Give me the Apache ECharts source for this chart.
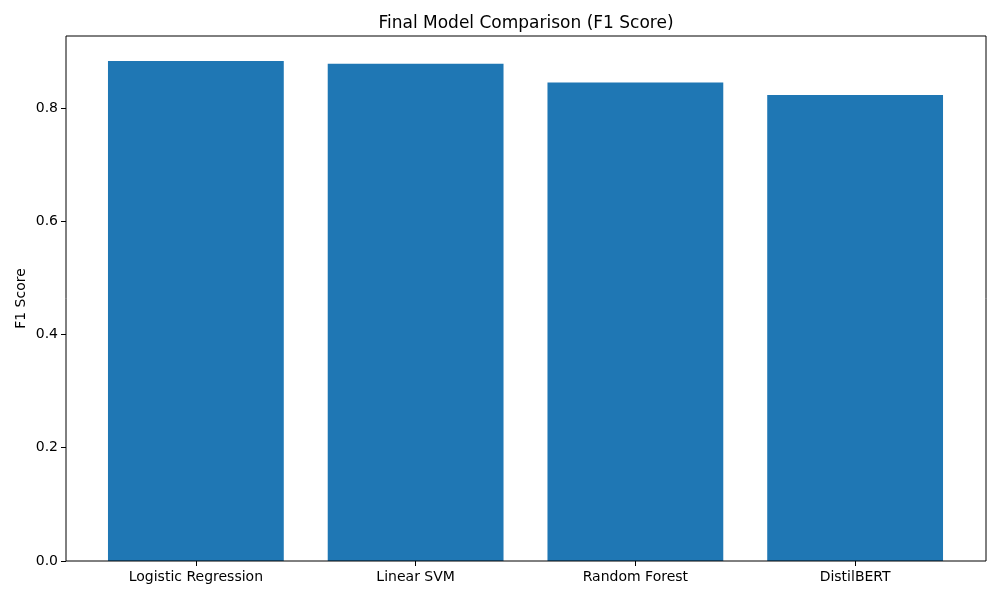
<!DOCTYPE html>
<html>

<head>
    <meta charset="utf-8">
    <script src="https://cdn.jsdelivr.net/npm/echarts@6/dist/echarts.min.js"></script>
</head>

<body style="margin:0;">
    <div id="main" style="width: 1000px;height:600px;"></div>
    <script type="text/javascript">
        // data
        var models = ['Logistic Regression', 'Linear SVM', 'Random Forest', 'DistilBERT'];
        var f1Scores = [0.883, 0.878, 0.845, 0.823];
        var yTicks = [0, 0.2, 0.4, 0.6, 0.8];

        var chartDom = document.getElementById('main');
        var myChart = echarts.init(chartDom);
        var font = 'DejaVu Sans';

        var option = {
            animation: false,
            backgroundColor: '#fff',
            title: {
                text: 'Final Model Comparison (F1 Score)',
                left: 521,
                top: 10,
                textAlign: 'center',
                textStyle: { fontFamily: font, fontSize: 17, fontWeight: 'normal', color: '#000' }
            },
            // axes frame like matplotlib
            graphic: [{
                type: 'rect',
                shape: { x: 66, y: 36, width: 920, height: 525 },
                style: { fill: 'none', stroke: '#000', lineWidth: 1 },
                z: 10
            }],
            grid: { left: 86, right: 35, top: 36, bottom: 39 },
            xAxis: {
                type: 'category',
                data: models,
                axisLine: { show: false },
                axisTick: { show: true, alignWithLabel: true, length: 5, lineStyle: { color: '#000' } },
                axisLabel: { margin: 9, fontFamily: font, fontSize: 14, color: '#000' }
            },
            yAxis: {
                type: 'value',
                min: 0,
                max: 0.927,
                interval: 0.2,
                offset: 20,
                name: 'F1 Score',
                nameLocation: 'middle',
                nameGap: 38,
                nameMoveOverlap: false,
                nameTextStyle: { fontFamily: font, fontSize: 14, color: '#000' },
                splitLine: { show: false },
                axisLine: { show: false },
                axisTick: { show: true, length: 5, customValues: yTicks, lineStyle: { color: '#000' } },
                axisLabel: {
                    margin: 8, fontFamily: font, fontSize: 14, color: '#000',
                    customValues: yTicks,
                    formatter: function (v) { return v.toFixed(1); }
                }
            },
            series: [{
                type: 'bar',
                data: f1Scores,
                barCategoryGap: '20%',
                itemStyle: { color: '#1f77b4' }
            }]
        };
        myChart.setOption(option);
    </script>
</body>

</html>
